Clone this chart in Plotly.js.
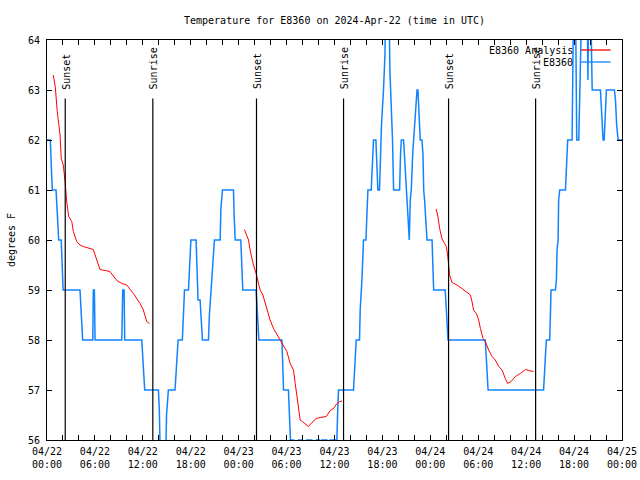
<!DOCTYPE html>
<html><head><meta charset="utf-8">
<script src="https://cdn.plot.ly/plotly-3.0.1.min.js"></script>
<style>html,body{margin:0;padding:0;background:#fff}#chart{width:640px;height:480px}</style>
</head><body><div id="chart"></div>
<script>
// Hours since 2024-04-22 00:00 UTC
const startUTC = Date.UTC(2024, 3, 22);

// E8360 Analysis (red) - three segments separated by null
const analysisHours = [
  0.79,1.04,1.29,1.63,1.79,2.04,2.26,2.47,2.72,3.10,3.30,3.72,4.14,4.55,5.80,6.23,6.64,7.89,8.73,9.36,9.99,10.81,11.65,12.07,12.49,12.82,
  null,
  24.72,25.23,25.44,25.65,25.85,26.19,26.48,26.69,27.03,27.32,27.61,27.94,28.36,28.78,29.20,29.61,30.04,30.45,30.86,31.08,31.29,31.49,31.70,32.12,32.74,33.17,33.71,34.21,34.96,35.46,35.88,36.30,36.63,36.93,
  null,
  48.71,48.91,49.16,49.46,49.79,50.00,50.16,50.29,50.41,50.71,51.34,51.97,52.59,53.01,53.22,53.42,53.76,54.05,54.26,54.60,54.89,55.30,55.73,56.14,56.56,56.98,57.39,57.68,58.11,58.65,59.27,59.90,60.31,60.94
];
const analysisTemps = [
  63.3,63.07,62.57,62.1,61.63,61.5,61.17,60.77,60.47,60.37,60.17,59.97,59.9,59.87,59.81,59.6,59.41,59.37,59.19,59.13,59.1,58.93,58.73,58.6,58.37,58.33,
  null,
  60.21,60.0,59.8,59.63,59.5,59.33,59.13,59.0,58.9,58.73,58.57,58.4,58.23,58.1,58.0,57.88,57.77,57.53,57.4,57.13,56.87,56.67,56.4,56.35,56.27,56.35,56.43,56.45,56.47,56.59,56.63,56.73,56.77,56.78,
  null,
  60.62,60.5,60.23,60.02,59.93,59.87,59.7,59.5,59.3,59.15,59.1,59.03,58.95,58.9,58.77,58.6,58.53,58.4,58.23,58.03,57.97,57.8,57.67,57.6,57.47,57.4,57.23,57.13,57.17,57.27,57.33,57.41,57.39,57.37
];

// E8360 observations (blue)
const obsHours = [
  0.00,0.41,0.54,0.66,1.13,1.25,1.47,1.79,1.88,2.01,4.14,4.26,4.47,5.73,5.80,5.93,6.02,9.36,9.49,9.65,9.74,
  11.87,11.99,12.12,12.24,13.95,14.07,14.20,14.85,14.97,15.20,16.04,16.20,16.42,16.95,17.08,17.21,17.71,17.83,18.01,
  18.67,18.76,18.92,19.17,19.34,19.46,20.21,20.34,20.55,20.76,20.96,21.68,21.77,21.97,23.35,23.43,23.56,24.27,24.40,24.52,
  26.19,26.32,26.53,29.41,29.51,29.61,30.24,30.36,30.49,30.86,30.95,31.39,31.49,31.92,32.02,32.46,32.54,33.17,33.27,33.62,
  33.71,34.12,34.25,34.34,34.42,35.05,35.15,35.38,35.46,36.09,36.22,36.30,36.38,36.50,38.38,38.51,38.60,38.72,39.14,39.22,
  39.44,39.51,39.64,39.94,40.06,40.19,40.60,40.73,40.89,41.19,41.32,41.44,41.64,41.77,41.89,42.14,42.32,42.44,42.82,42.94,
  43.11,43.27,43.40,44.15,44.27,44.36,44.65,44.77,44.95,45.08,45.20,45.36,45.49,45.61,45.78,45.90,46.03,46.20,46.33,46.45,
  46.58,46.74,46.95,47.08,47.16,47.28,47.46,47.58,48.21,48.31,48.41,49.87,50.00,50.21,54.89,55.01,55.23,62.19,62.32,62.41,
  62.53,62.95,63.03,63.12,63.66,63.78,63.87,64.00,64.07,64.20,64.91,65.00,65.10,65.20,65.75,65.85,65.95,66.17,66.33,66.58,
  66.79,67.00,67.63,67.73,67.83,68.05,68.17,68.26,69.30,69.42,69.64,69.76,69.89,70.05,71.05,71.18,71.34,71.52,72.00
];
const obsTemps = [
  62,62,61.5,61,61,60.6,60,60,59.5,59,59,58.6,58,58,59,59,58,58,59,59,58,
  58,57.6,57.2,57,57,56.6,55.5,55.5,56.5,57,57,57.5,58,58,58.6,59,59,59.5,60,
  60,59.4,58.8,58.8,58.3,58,58,58.5,59,59.5,60,60,60.6,61,61,60.5,60,60,59.5,59,
  59,58.5,58,58,57.5,57,57,56.6,56,56,55.8,55.8,56,56,55.8,55.8,56,56,55.8,55.8,
  56,56,55.8,55.8,56,56,55.8,55.8,56,56,55.8,56,56.5,57,57,57.4,57.7,58,58,58.6,
  59.2,59.8,60,60,60.7,61,61,61.7,62,62,61.5,61,61,61.8,62.3,63,63.7,65,65,63.4,
  62.8,62,61,61,61.7,62,62,61.7,61,60.8,60.4,60,60.8,61,61.7,62,62.4,62.9,63,63,
  62.6,62,62,61.7,61,60.8,60.3,60,60,59.5,59,59,58.6,58,58,57.6,57,57,57.3,57.7,
  58,58,58.5,59,59,59.2,59.8,60,60.8,61,61,61.3,61.7,62,62,63,65,65,62,62,
  63,65,65,63.2,65,65,63.7,63,63,62.7,62,62,62.6,63,63,62.8,62.3,62,62
];

// Sun events (hours since start)
const sunsetHours = [2.29, 26.23, 50.29];
const sunriseHours = [13.25, 37.13, 61.19];

const yTickVals = [56,57,58,59,60,61,62,63,64];

function toTime(h) {
  if (h === null) return null;
  return new Date(startUTC + Math.round(h * 60) * 60000).toISOString().slice(0, 16).replace('T', ' ');
}

const FONT = 'DejaVu Sans Mono, Liberation Mono, monospace';
const BLUE = 'rgb(16,132,255)';
const RED = 'rgb(255,0,0)';

const traces = [
  { x: obsHours.map(toTime), y: obsTemps, type: 'scatter', mode: 'lines', name: 'E8360',
    line: { color: BLUE, width: 1.5 }, showlegend: false },
  { x: analysisHours.map(toTime), y: analysisTemps, type: 'scatter', mode: 'lines', name: 'E8360 Analysis',
    line: { color: RED, width: 1 }, connectgaps: false, showlegend: false }
];

const shapes = [];
const annotations = [];
const events = sunsetHours.map(h => ['Sunset', h]).concat(sunriseHours.map(h => ['Sunrise', h]));
events.forEach(([label, h]) => {
  shapes.push({ type: 'line', xref: 'x', yref: 'paper', x0: toTime(h), x1: toTime(h), y0: 0, y1: 0.854,
    line: { color: 'black', width: 1.2 } });
  annotations.push({ text: label, xref: 'x', yref: 'paper', x: toTime(h), y: 0.871, xanchor: 'center', yanchor: 'bottom',
    textangle: -90, showarrow: false, xshift: 1, font: { family: FONT, size: 10, color: 'black' } });
});

// legend (gnuplot style: text then line sample)
const legendItems = [['E8360 Analysis', RED, 0.975], ['E8360', BLUE, 0.945]];
legendItems.forEach(([name, col, yy]) => {
  annotations.push({ text: name, xref: 'paper', yref: 'paper', x: 0.918, y: yy, xanchor: 'right', yanchor: 'middle',
    showarrow: false, font: { family: FONT, size: 10, color: 'black' } });
  shapes.push({ type: 'line', xref: 'paper', yref: 'paper', x0: 0.929, x1: 0.980, y0: yy, y1: yy,
    line: { color: col, width: 1.3 } });
});

const layout = {
  width: 640, height: 480,
  margin: { l: 47, r: 18, t: 40, b: 40 },
  paper_bgcolor: 'white', plot_bgcolor: 'white',
  font: { family: FONT, size: 10, color: 'black' },
  title: { text: 'Temperature for E8360 on 2024-Apr-22 (time in UTC)', x: 0.5, xref: 'paper',
    y: 0.958, yref: 'container', yanchor: 'middle', font: { family: FONT, size: 10, color: 'black' } },
  xaxis: {
    type: 'date', range: ['2024-04-22 00:00', '2024-04-25 00:00'],
    tick0: '2024-04-22 00:00', dtick: 6 * 3600 * 1000, tickformat: '%m/%d<br>%H:%M',
    ticks: 'inside', ticklen: 5, tickcolor: 'black', tickwidth: 1,
    minor: { dtick: 2 * 3600 * 1000, ticks: 'inside', ticklen: 5, tickcolor: 'black', showgrid: false },
    showline: true, linecolor: 'black', linewidth: 1, mirror: 'allticks',
    showgrid: false, zeroline: false, fixedrange: true,
    ticklabelstandoff: 2,
    tickfont: { family: FONT, size: 10, color: 'black' }
  },
  yaxis: {
    range: [56, 64], tickvals: yTickVals,
    ticks: 'inside', ticklen: 5, tickcolor: 'black',
    showline: true, linecolor: 'black', linewidth: 1, mirror: 'allticks',
    showgrid: false, zeroline: false,
    ticklabelstandoff: 4,
    tickfont: { family: FONT, size: 10, color: 'black' },
    title: { text: 'degrees F', standoff: 10, font: { family: FONT, size: 10, color: 'black' } }
  },
  shapes: shapes,
  annotations: annotations,
  showlegend: false
};

Plotly.newPlot('chart', traces, layout, { displayModeBar: false, staticPlot: true });
</script></body></html>
